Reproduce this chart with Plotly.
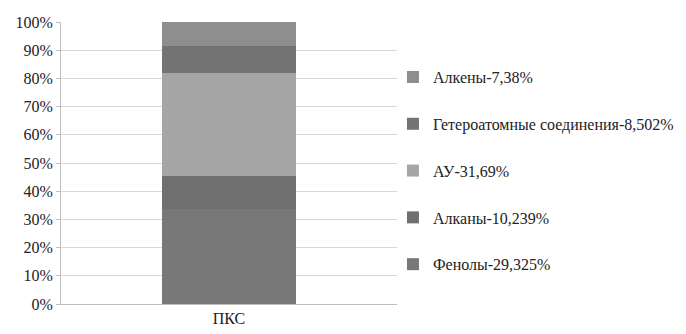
import plotly.graph_objects as go

# Composition of the ПКС sample, stacked and normalised to 100 %
category = ["ПКС"]
components = ["Фенолы", "Алканы", "АУ", "Гетероатомные соединения", "Алкены"]
values = [29.325, 10.239, 31.69, 8.502, 7.38]
value_text = ["29,325", "10,239", "31,69", "8,502", "7,38"]
colors = ["#787878", "#6f6f6f", "#a6a6a6", "#737373", "#8e8e8e"]

y_ticks = list(range(0, 101, 10))

fig = go.Figure()
n = len(components)
for i, (name, v, vt, c) in enumerate(zip(components, values, value_text, colors)):
    fig.add_trace(go.Bar(
        x=category, y=[v], name=f"{name}-{vt}%",
        marker=dict(color=c, line=dict(width=0)),
        legendgroup=name, legendrank=n - i, width=0.4,
    ))

serif = "serif"
text_font = dict(family=serif, size=16, color="#222222")

fig.update_layout(
    barmode="stack", barnorm="percent",
    width=686, height=334,
    margin=dict(l=61, r=289, t=22, b=30, autoexpand=False),
    plot_bgcolor="white", paper_bgcolor="white",
    font=text_font,
    showlegend=True,
    legend=dict(
        x=0.988, y=0.865, xanchor="left", yanchor="top",
        traceorder="grouped", tracegroupgap=23,
        font=text_font, itemwidth=30, bgcolor="rgba(0,0,0,0)",
    ),
    xaxis=dict(
        showline=True, linecolor="#bfbfbf", linewidth=1,
        ticks="", tickfont=text_font, showgrid=False,
    ),
    yaxis=dict(
        range=[0, 100], tickvals=y_ticks,
        ticktext=[f"{t}%" for t in y_ticks],
        showgrid=True, gridcolor="#d9d9d9", gridwidth=1,
        showline=True, linecolor="#bfbfbf", linewidth=1,
        ticks="outside", ticklen=4, tickcolor="#bfbfbf",
        tickfont=text_font, zeroline=False,
    ),
)

fig.write_html("out.html")
